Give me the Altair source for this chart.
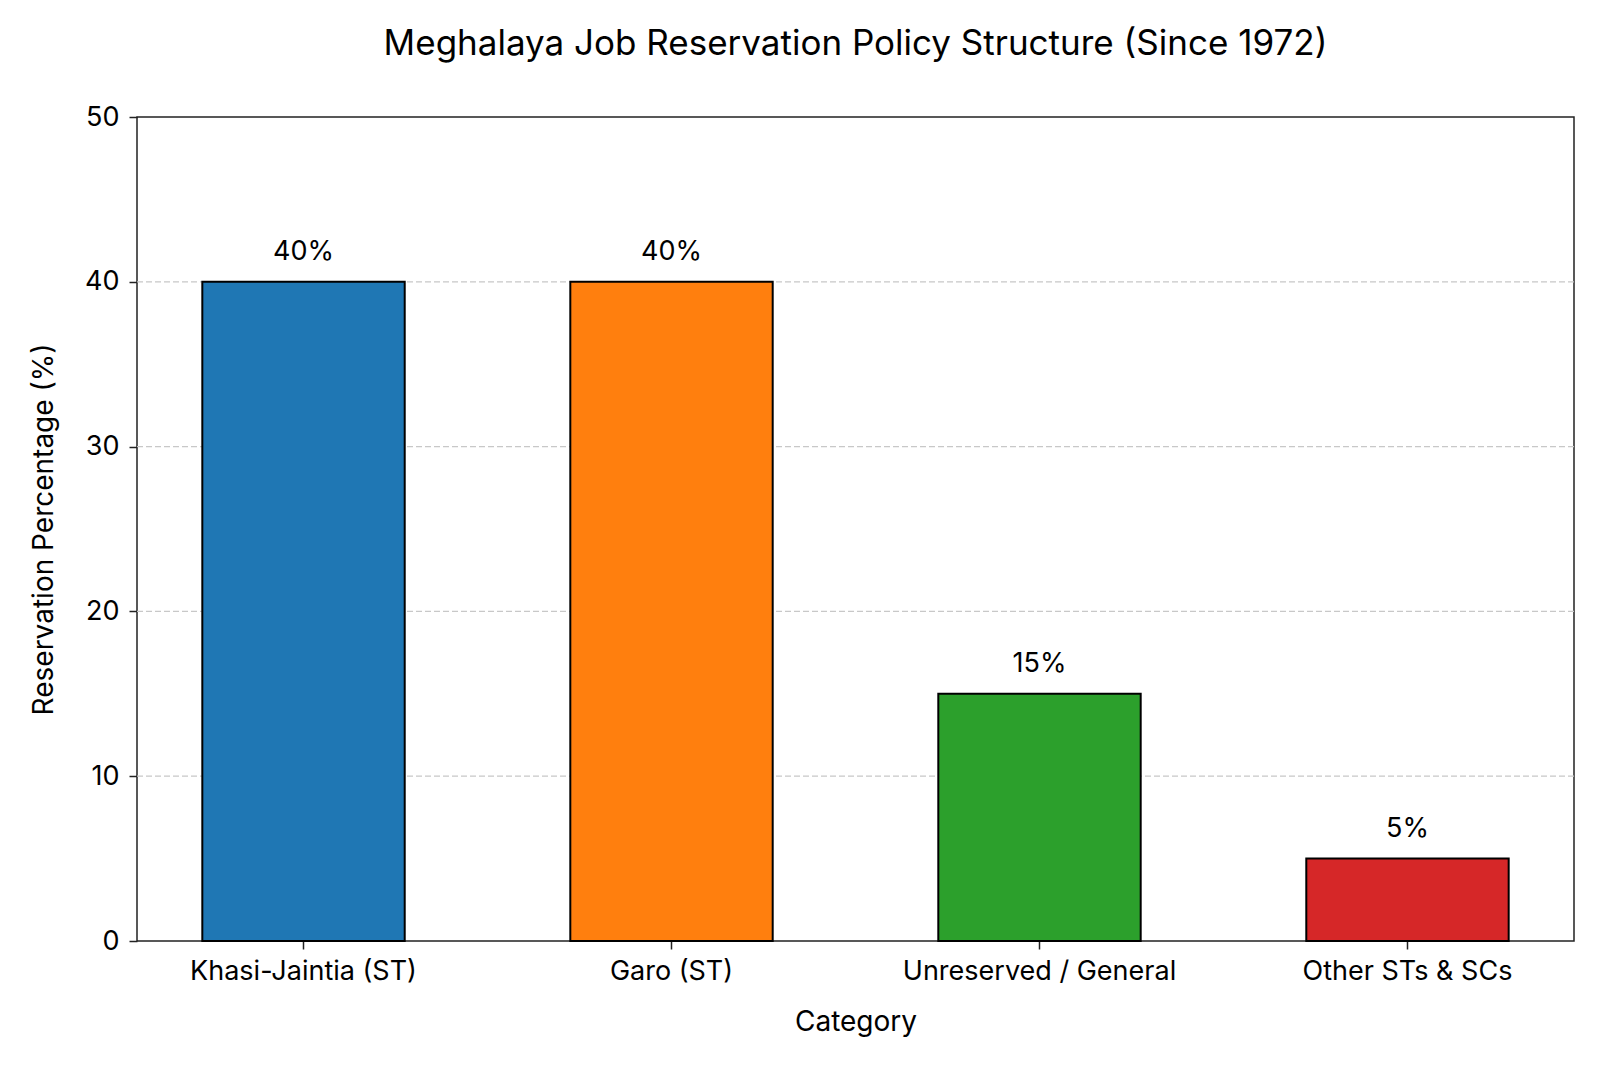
import altair as alt
import pandas as pd

categories = ["Khasi-Jaintia (ST)", "Garo (ST)", "Unreserved / General", "Other STs & SCs"]
values = [40, 40, 15, 5]
labels = ["40%", "40%", "15%", "5%"]
colors = ["#1f77b4", "#ff7f0e", "#2ca02c", "#d62728"]
y_ticks = [0, 10, 20, 30, 40, 50]
grid_values = [10, 20, 30, 40]

df = pd.DataFrame({"Category": categories, "Value": values, "Label": labels})
grid_df = pd.DataFrame({"g": grid_values})

FONT = "Inter"
TICK_FS = 27
AXIS_TITLE_FS = 28
LABEL_FS = 27
TITLE_FS = 35
Y_TITLE = "Reservation Percentage (%)"

x_enc = alt.X(
    "Category:N",
    sort=categories,
    title="Category",
    scale=alt.Scale(paddingInner=0.45, paddingOuter=0.1775),
    axis=alt.Axis(
        labelAngle=0,
        labelFont=FONT,
        labelFontSize=TICK_FS,
        labelColor="black",
        labelBaseline="alphabetic",
        labelPadding=30,
        labelLimit=600,
        ticks=True,
        tickSize=8,
        tickColor="#222",
        tickWidth=1.5,
        domain=False,
        grid=False,
        titleFont=FONT,
        titleFontSize=AXIS_TITLE_FS,
        titleFontWeight="normal",
        titleColor="black",
        titleBaseline="alphabetic",
        titleY=89,
    ),
)

y_scale = alt.Scale(domain=[0, 50], nice=False)

y_axis = alt.Axis(
    values=y_ticks,
    labelFont=FONT,
    labelFontSize=TICK_FS,
    labelColor="black",
    labelPadding=10,
    ticks=True,
    tickSize=8,
    tickColor="#222",
    tickWidth=1.5,
    domain=False,
    grid=False,
    titleFont=FONT,
    titleFontSize=AXIS_TITLE_FS,
    titleFontWeight="normal",
    titleColor="black",
    titleBaseline="alphabetic",
    titleAngle=-90,
    titleAlign="center",
    titleX=-85,
    titleY=412,
)

grid = alt.Chart(grid_df).mark_rule(color="#c8c8c8", strokeDash=[6, 3], strokeWidth=1.3).encode(
    y=alt.Y("g:Q", scale=y_scale, axis=y_axis, title=Y_TITLE)
)

base = alt.Chart(df)

bars = base.mark_bar(stroke="black", strokeWidth=2).encode(
    x=x_enc,
    y=alt.Y("Value:Q", scale=y_scale, axis=y_axis, title=Y_TITLE),
    color=alt.Color("Category:N", scale=alt.Scale(domain=categories, range=colors), legend=None),
)

text = base.mark_text(
    font=FONT, fontSize=LABEL_FS, color="black", baseline="alphabetic", align="center", dy=-22
).encode(
    x=alt.X("Category:N", sort=categories),
    y=alt.Y("Value:Q", title=Y_TITLE),
    text="Label:N",
)

chart = (
    alt.layer(grid, bars, text)
    .properties(
        width=1437,
        height=824,
        title=alt.TitleParams(
            "Meghalaya Job Reservation Policy Structure (Since 1972)",
            font=FONT,
            fontSize=TITLE_FS,
            fontWeight="normal",
            color="black",
            anchor="middle",
            frame="group",
            offset=41,
        ),
        autosize=alt.AutoSizeParams(type="none"),
        padding={"left": 129, "top": 109, "right": 10, "bottom": 100},
        background="white",
    )
    .configure_view(stroke="#222", strokeWidth=1.5)
)

chart.save("out.html", embed_options={"renderer": "svg", "actions": False})
